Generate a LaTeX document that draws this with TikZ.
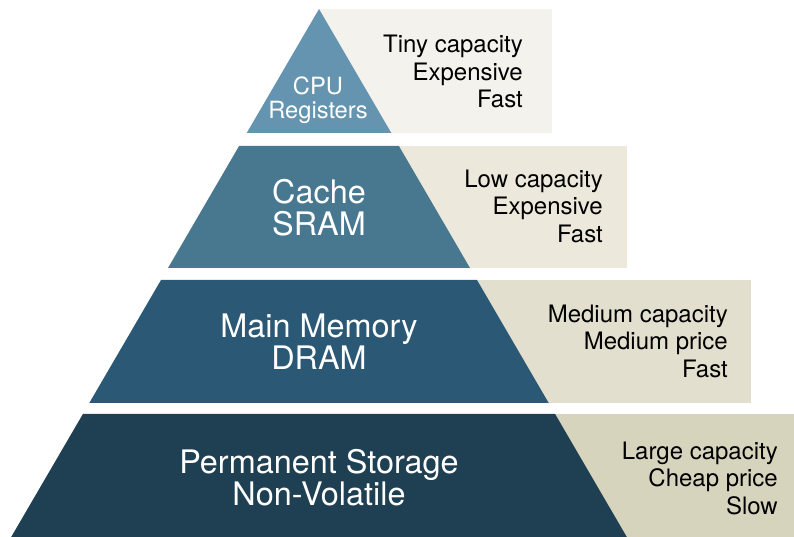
\documentclass[tikz,border=0pt]{standalone}
\usepackage{fontspec}
\setmainfont{TeX Gyre Heros}
\definecolor{tierA}{HTML}{6494B0}
\definecolor{tierB}{HTML}{48788F}
\definecolor{tierC}{HTML}{2B5874}
\definecolor{tierD}{HTML}{1F3F52}
\definecolor{boxA}{HTML}{F3F2ED}
\definecolor{boxB}{HTML}{ECE9DC}
\definecolor{boxC}{HTML}{E2DFCF}
\definecolor{boxD}{HTML}{D7D4BE}
\tikzset{
  infotext/.style={anchor=east, align=right, inner sep=0pt, text=black,
    font=\fontsize{24}{27.5}\selectfont},
  tiertext/.style={anchor=center, align=center, inner sep=0pt, text=white,
    font=\fontsize{32.4}{32}\selectfont},
  toptext/.style={anchor=center, align=center, inner sep=0pt, text=white,
    font=\fontsize{23.7}{24}\selectfont}
}
\begin{document}
\begin{tikzpicture}[x=1pt,y=1pt]
\useasboundingbox (0,0) rectangle (794,537);
% info boxes (behind the pyramid)
\fill[boxA] (319,404) rectangle (552,528);
\fill[boxB] (319,269) rectangle (627,391);
\fill[boxC] (319,134) rectangle (751,257);
\fill[boxD] (319,0) rectangle (794,123);
% pyramid tiers
\fill[tierA] (319,528) -- (391.3,404) -- (246.7,404) -- cycle;
\fill[tierB] (239.1,391) -- (398.9,391) -- (470.0,269) -- (168.0,269) -- cycle;
\fill[tierC] (161.0,257) -- (477.0,257) -- (548.7,134) -- (89.3,134) -- cycle;
\fill[tierD] (82.9,123) -- (555.1,123) -- (626.8,0) -- (11.2,0) -- cycle;
% tier labels
\node[toptext] (t1) at (318,437) {CPU\\Registers};
\node[tiertext] (t2) at (319,329.3) {Cache\\SRAM};
\node[tiertext] (t3) at (319,195.6) {Main Memory\\DRAM};
\node[tiertext] (t4) at (319,59.3) {Permanent Storage\\Non-Volatile};
% info texts
\node[infotext] (i1) at (523,465.2) {Tiny capacity\\Expensive\\Fast};
\node[infotext] (i2) at (603,330.7) {Low capacity\\Expensive\\Fast};
\node[infotext] (i3) at (728,195.7) {Medium capacity\\Medium price\\Fast};
\node[infotext] (i4) at (778,58.7) {Large capacity\\Cheap price\\Slow};
\end{tikzpicture}
\end{document}
